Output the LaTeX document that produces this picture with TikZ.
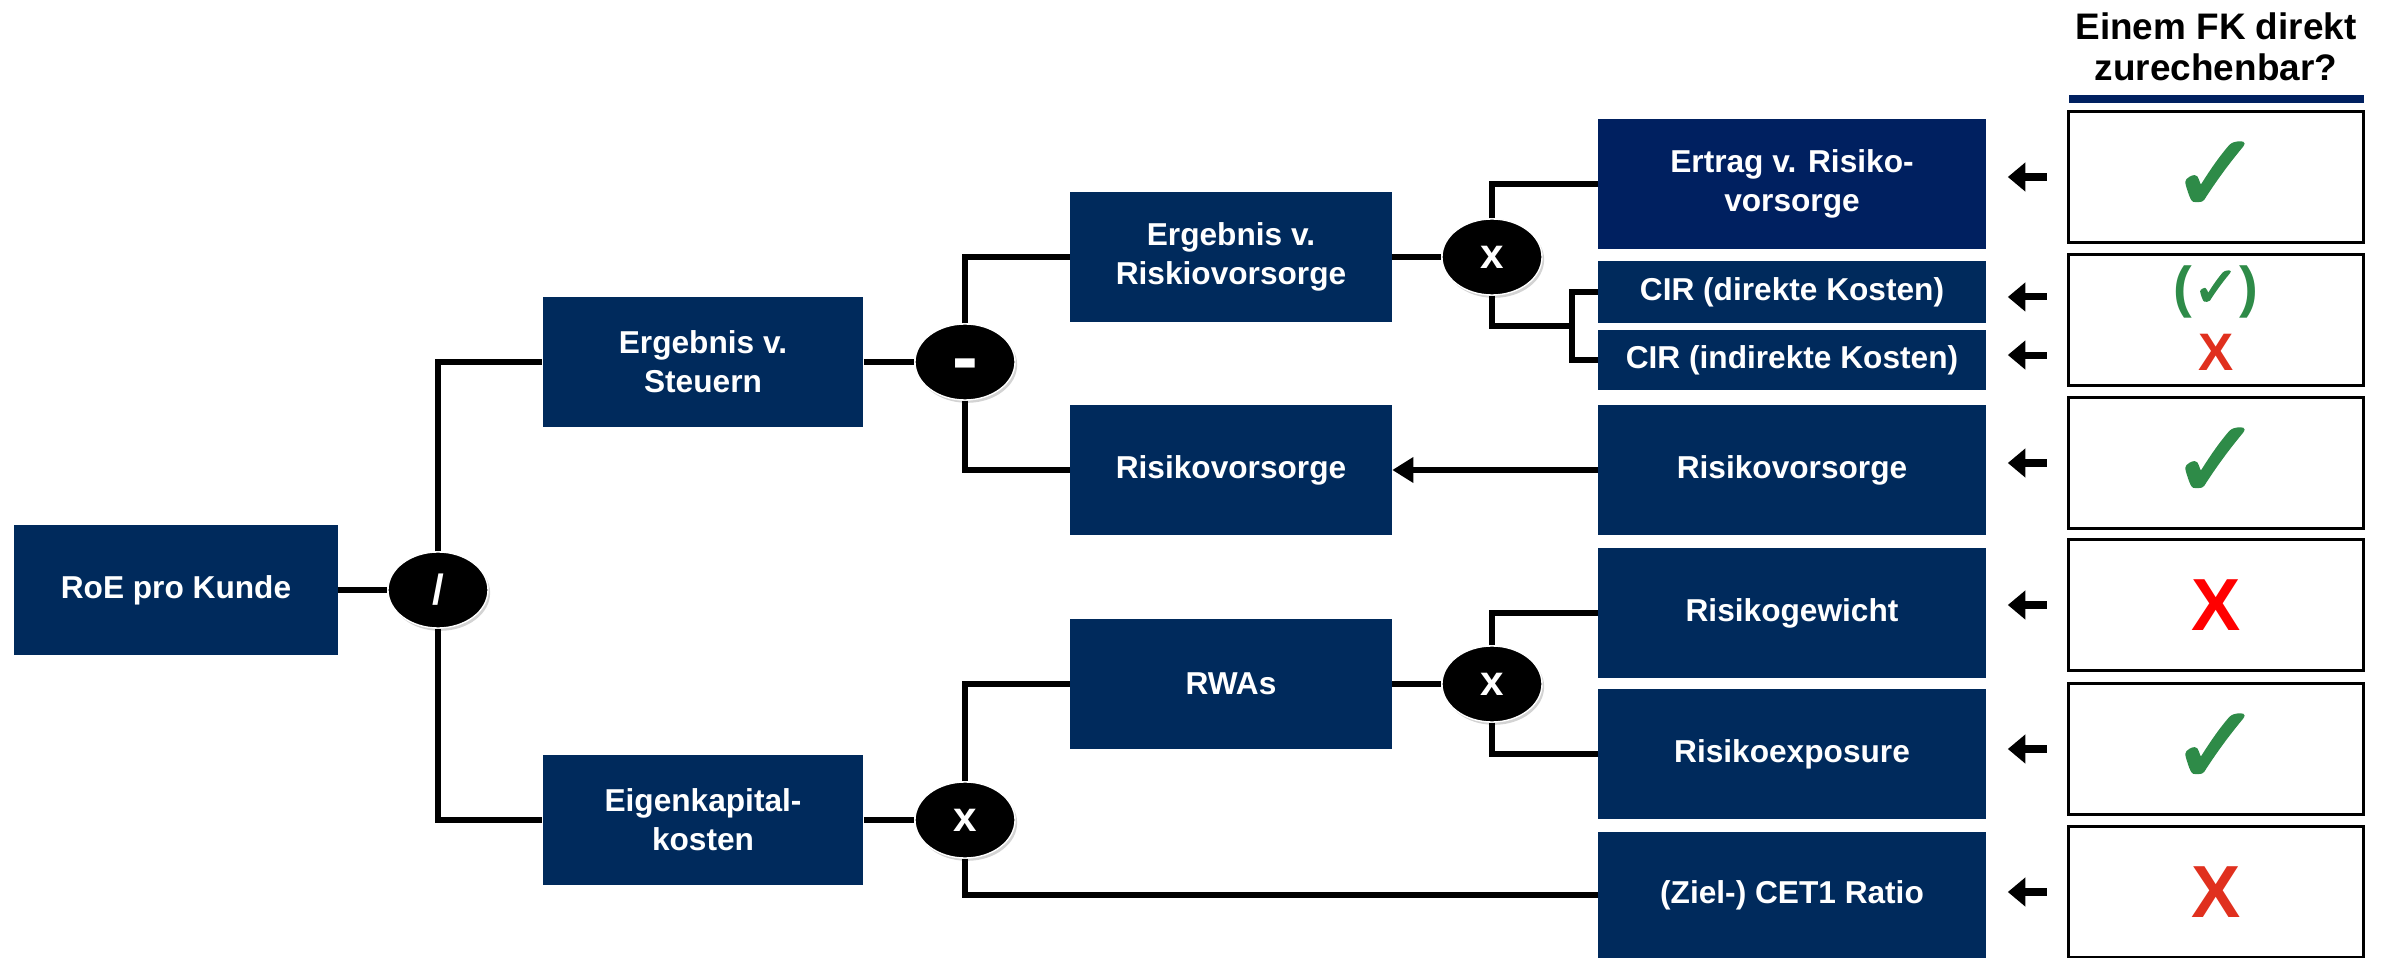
\documentclass[tikz,border=0pt]{standalone}
\usepackage{fontspec}
\setmainfont{Liberation Sans}
\newfontfamily\symfont{DejaVu Sans}[BoldFont=DejaVu Sans,BoldFeatures={FakeBold=2.5}]
\usetikzlibrary{arrows.meta,shapes.geometric,shadows}

\definecolor{navy}{RGB}{0,42,92}
\definecolor{navyb}{RGB}{0,32,96}
\definecolor{okgreen}{RGB}{46,139,72}
\definecolor{nored}{RGB}{224,48,30}

\tikzset{
  box/.style={fill=navy,text=white,font=\fontsize{9}{11}\selectfont\bfseries,align=center,minimum height=1.30cm,inner sep=0pt},
  op/.style={ellipse,fill=black,draw=white,thin,text=white,minimum width=1cm,minimum height=0.76cm,inner sep=0pt,
    font=\fontsize{12}{12}\selectfont\bfseries,drop shadow={opacity=0.35,shadow xshift=0.6pt,shadow yshift=-0.8pt}},
  chk/.style={draw=black,line width=0.9pt,minimum width=2.95cm,minimum height=1.31cm,inner sep=0pt},
  link/.style={line width=1.45pt},
  hint/.style={line width=2pt,-{Triangle[length=5pt,width=8pt]}},
  ok/.style={text=okgreen,font=\symfont\bfseries\fontsize{31}{31}\selectfont},
  no/.style={font=\fontsize{21}{21}\selectfont\bfseries}
}

\begin{document}
\begin{tikzpicture}[x=0.01cm,y=-0.01cm]
\useasboundingbox (0,0) rectangle (2387,958);
% baum
\node[box,minimum width=3.23cm] (roe) at (176,590) {RoE pro Kunde};
\node[op] (div) at (438,590) {/};
\node[box,minimum width=3.2cm] (est) at (703,362) {Ergebnis v.\\Steuern};
\node[box,minimum width=3.2cm] (ekk) at (703,820) {Eigenkapital-\\kosten};
\node[op,font=\fontsize{22}{22}\selectfont\bfseries,text height=12pt,text depth=0pt] (minus) at (965,362) {-};
\node[op] (mul1) at (965,820) {x};
\node[box,minimum width=3.21cm] (erv) at (1231,257) {Ergebnis v.\\Riskiovorsorge};
\node[box,minimum width=3.21cm] (rv) at (1231,470) {Risikovorsorge};
\node[box,minimum width=3.21cm] (rwa) at (1231,684) {RWAs};
\node[op] (mul2) at (1492,257) {x};
\node[op] (mul3) at (1492,684) {x};
% treiber
\node[box,fill=navyb,minimum width=3.87cm] (ert) at (1792,184) {Ertrag v. Risiko-\\vorsorge};
\node[box,minimum width=3.87cm,minimum height=0.61cm] (cird) at (1792,292) {CIR (direkte Kosten)};
\node[box,minimum width=3.87cm,minimum height=0.60cm] (ciri) at (1792,360) {CIR (indirekte Kosten)};
\node[box,minimum width=3.87cm] (rv2) at (1792,470) {Risikovorsorge};
\node[box,minimum width=3.87cm] (rgew) at (1792,613) {Risikogewicht};
\node[box,minimum width=3.87cm] (rexp) at (1792,754) {Risikoexposure};
\node[box,minimum width=3.87cm,minimum height=1.25cm] (cet) at (1792,895) {(Ziel-) CET1 Ratio};
\coordinate (cirj) at (1572,326);

\draw[link] (roe) -- (div);
\draw[link] (div) |- (est);
\draw[link] (div) |- (ekk);
\draw[link] (est) -- (minus);
\draw[link] (minus) |- (erv);
\draw[link] (minus) |- (rv);
\draw[link] (ekk) -- (mul1);
\draw[link] (mul1) |- (rwa);
\draw[link] (mul1) |- (cet);
\draw[link] (erv) -- (mul2);
\draw[link] (mul2) |- (ert);
\draw[link] (mul2) |- (cirj);
\draw[link] (cird.west) -| (cirj) |- (ciri.west);
\draw[link] (rwa) -- (mul3);
\draw[link] (mul3) |- (rgew);
\draw[link] (mul3) |- (rexp);
\draw[link,-{Triangle[length=6pt,width=7pt]}] (rv2) -- (rv);

% spalte rechts
\node[font=\fontsize{10.5}{11.8}\selectfont\bfseries,align=center] (head) at (2216,47) {Einem FK direkt\\zurechenbar?};
\fill[navyb] (2069,95) rectangle (2364,103);
\foreach \n/\y in {c1/177,c2/320,c3/463,c4/605,c5/749,c6/892} {\node[chk] (\n) at (2216,\y) {};}
\foreach \n in {c1,c3,c4,c5,c6} {\draw[hint] ([xshift=-2mm]\n.west) -- ++(-39,0);}
\draw[hint] ([xshift=-2mm,yshift=2.3mm]c2.west) -- ++(-39,0);
\draw[hint] ([xshift=-2mm,yshift=-3.5mm]c2.west) -- ++(-39,0);
\node[ok] at (c1) {✓};
\node[ok] at (c3) {✓};
\node[ok] at (c5) {✓};
\node[text=okgreen,font=\fontsize{16}{16}\selectfont\bfseries] at (2216,292) {({\symfont\bfseries ✓})};
\node[text=nored,font=\fontsize{15}{15}\selectfont\bfseries] at (2216,352) {X};
\node[no,text=red] at (c4) {X};
\node[no,text=nored] at (c6) {X};
\end{tikzpicture}
\end{document}
